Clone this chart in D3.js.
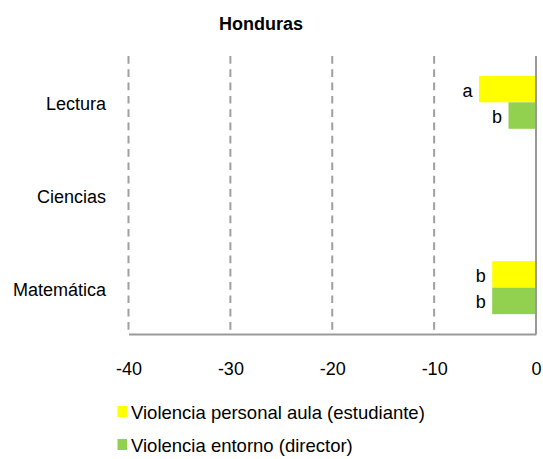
<!DOCTYPE html>
<html><head><meta charset="utf-8">
<script src="https://cdn.jsdelivr.net/npm/d3@7"></script>
<style>body{margin:0;background:#fff}svg{display:block;font-family:"Liberation Sans",Arial,sans-serif}</style>
</head><body><svg id="c" width="543" height="459"></svg>
<script>
const categories = ["Lectura", "Ciencias", "Matemática"];
const seriesNames = ["Violencia personal aula (estudiante)", "Violencia entorno (director)"];
const seriesColors = ["#ffff00", "#92d050"];
const personalAula = [-5.6, null, -4.3];
const entorno = [-2.7, null, -4.3];
const personalAulaLabels = ["a", "", "b"];
const entornoLabels = ["b", "", "b"];
const xTicks = [-40, -30, -20, -10, 0];

const FONT = "Liberation Sans, Arial, sans-serif";
const svg = d3.select("#c");
const m = {left: 128.5, right: 536, top: 56, bottom: 334};
const x = d3.scaleLinear().domain([-40, 0]).range([m.left, m.right]);
const y = d3.scaleBand().domain(categories).range([m.top, m.bottom]);
const inner = d3.scaleBand().domain([0, 1]).range([0, y.bandwidth()]).paddingOuter(0.75).paddingInner(0);

svg.append("text").attr("x", 261).attr("y", 30).attr("text-anchor", "middle")
  .attr("font-weight", "bold").attr("font-size", 18).text("Honduras");

// gridlines
svg.append("g").selectAll("line").data(xTicks.filter(d => d !== 0)).join("line")
  .attr("x1", d => x(d)).attr("x2", d => x(d)).attr("y1", m.top).attr("y2", m.bottom - 2)
  .attr("stroke", "#a0a0a0").attr("stroke-width", 2).attr("stroke-dasharray", "7.7,5.6");

const series = [
  {vals: personalAula, labs: personalAulaLabels},
  {vals: entorno, labs: entornoLabels}
];
series.forEach((s, i) => {
  const g = svg.append("g");
  categories.forEach((c, j) => {
    const v = s.vals[j];
    if (v == null) return;
    const y0 = y(c) + inner(i);
    g.append("rect").attr("x", x(v)).attr("width", x(0) - x(v))
      .attr("y", y0).attr("height", inner.bandwidth()).attr("fill", seriesColors[i]);
    g.append("text").attr("x", x(v) - 6.5).attr("y", y0 + inner.bandwidth() / 2 + 7.5)
      .attr("text-anchor", "end").attr("font-size", 18).attr("fill", "#000").text(s.labs[j]);
  });
});

// axes
const xAxis = d3.axisBottom(x).tickValues(xTicks).tickSize(0).tickPadding(28.5).tickFormat(d => String(d));
const gx = svg.append("g").attr("transform", `translate(0,${m.bottom})`).call(xAxis);
gx.select(".domain").attr("stroke", "#999").attr("stroke-width", 2);
gx.selectAll("text").attr("font-size", 18).attr("font-family", FONT).attr("fill", "#000");

svg.append("line").attr("x1", x(0)).attr("x2", x(0)).attr("y1", m.top).attr("y2", m.bottom)
  .attr("stroke", "#999").attr("stroke-width", 2);

const yAxis = d3.axisLeft(y).tickSize(0).tickPadding(22.5);
const gy = svg.append("g").attr("transform", `translate(${m.left},0)`).call(yAxis);
gy.select(".domain").remove();
gy.selectAll("text").attr("font-size", 18).attr("font-family", FONT).attr("fill", "#000").attr("dy", "0.44em");

// legend
const lg = svg.append("g").selectAll("g").data(seriesNames).join("g")
  .attr("transform", (d, i) => `translate(117.5,${406 + i * 33})`);
lg.append("rect").attr("width", 9.5).attr("height", 11).attr("fill", (d, i) => seriesColors[i]);
lg.append("text").attr("x", 13.5).attr("y", 12.5).attr("font-size", 18.5).attr("fill", "#000").text(d => d);
</script></body></html>
